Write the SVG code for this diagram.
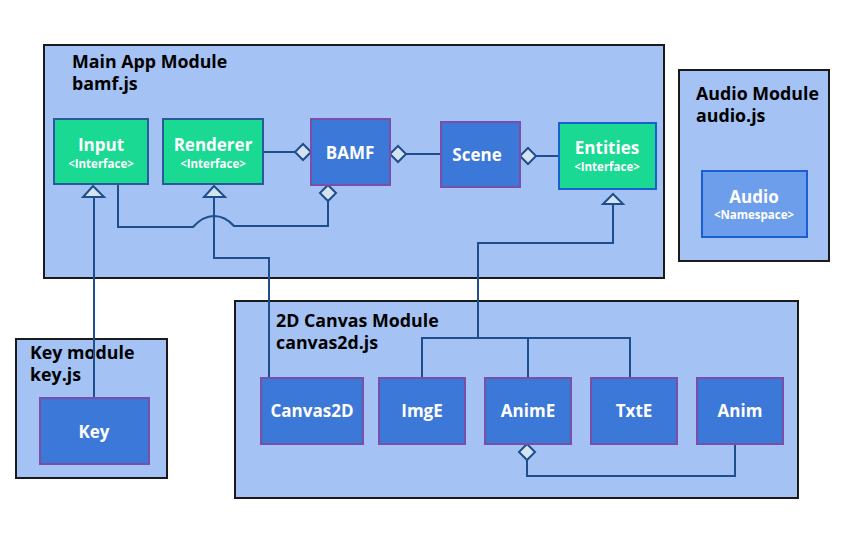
<svg xmlns="http://www.w3.org/2000/svg" width="868" height="549" viewBox="0 0 868 549">
<style>
.mod{fill:#a4c2f4;stroke:#1a1a1a;stroke-width:2}
.title{font-family:"Open Sans","Noto Sans",sans-serif;font-weight:bold;font-size:17.8px;fill:#000}
.iface{fill:#19d993;stroke:#2b5a9a;stroke-width:2}
.cls{fill:#3c78d8;stroke:#7a4fa8;stroke-width:2}
.ns{fill:#6d9eeb;stroke:#1a5fd0;stroke-width:2}
.lbl{font-family:"Open Sans","Noto Sans",sans-serif;font-weight:bold;font-size:17px;fill:#fff;text-anchor:middle}
.sub{font-family:"Open Sans","Noto Sans",sans-serif;font-weight:bold;font-size:11.5px;fill:#fff;text-anchor:middle}
.ln{fill:none;stroke:#1f4e8c;stroke-width:2}
.mk{fill:#d3e3f0;stroke:#1f4e8c;stroke-width:2;stroke-linejoin:miter}
</style>
<rect width="868" height="549" fill="#fff"/>
<g id="main-module">
<rect class="mod" x="44" y="45" width="620" height="233"/>
<text class="title" x="72" y="68">Main App Module</text>
<text class="title" x="72" y="90">bamf.js</text>
</g>
<g id="audio-module">
<rect class="mod" x="679" y="70" width="150" height="191"/>
<text class="title" x="696" y="100">Audio Module</text>
<text class="title" x="696" y="122">audio.js</text>
</g>
<g id="key-module">
<rect class="mod" x="16" y="339" width="151" height="139"/>
<text class="title" x="30" y="359">Key module</text>
<text class="title" x="30" y="381">key.js</text>
</g>
<g id="canvas-module">
<rect class="mod" x="235" y="301" width="563" height="197"/>
<text class="title" x="276" y="327">2D Canvas Module</text>
<text class="title" x="276" y="349">canvas2d.js</text>
</g>
<g id="connectors">
<path class="ln" d="M263,152 H295"/>
<path class="ln" d="M406,154 H441"/>
<path class="ln" d="M536,156 H559"/>
<path class="ln" d="M118,184 V227 H193 Q203,216 214,216 Q225,216 234,226 H328 V201"/>
<path class="ln" d="M94,197 V398"/>
<path class="ln" d="M214,197 V258 H269 V378"/>
<path class="ln" d="M613,204 V243 H478 V338"/>
<path class="ln" d="M422,378 V338 H630 V378"/>
<path class="ln" d="M528,338 V378"/>
<path class="ln" d="M527,460 V476 H735 V444"/>
<polygon class="mk" points="295,152 303,144 311,152 303,160"/>
<polygon class="mk" points="390,154 398,146 406,154 398,162"/>
<polygon class="mk" points="520,156 528,148 536,156 528,164"/>
<polygon class="mk" points="328,185 336,193 328,201 320,193"/>
<polygon class="mk" points="527,444 535,452 527,460 519,452"/>
<polygon class="mk" points="93,186 104,197 83,197"/>
<polygon class="mk" points="214,186 225,197 204,197"/>
<polygon class="mk" points="613,194 623,204 603,204"/>
</g>
<g id="input">
<rect class="iface" x="54" y="119" width="94" height="65"/>
<text class="lbl" x="101" y="151">Input</text>
<text class="sub" x="101" y="168">&lt;Interface&gt;</text>
</g>
<g id="renderer">
<rect class="iface" x="163" y="119" width="100" height="65"/>
<text class="lbl" x="213" y="151">Renderer</text>
<text class="sub" x="213" y="168">&lt;Interface&gt;</text>
</g>
<g id="bamf">
<rect class="cls" x="311" y="119" width="79" height="66"/>
<text class="lbl" x="350" y="159">BAMF</text>
</g>
<g id="scene">
<rect class="cls" x="441" y="122" width="79" height="65"/>
<text class="lbl" x="477" y="161">Scene</text>
</g>
<g id="entities">
<rect class="iface" x="559" y="123" width="97" height="66" style="stroke:#1a5fd0"/>
<text class="lbl" x="607" y="154">Entities</text>
<text class="sub" x="607" y="171">&lt;Interface&gt;</text>
</g>
<g id="audio">
<rect class="ns" x="702" y="171" width="105" height="66"/>
<text class="lbl" x="754" y="203">Audio</text>
<text class="sub" x="754" y="219">&lt;Namespace&gt;</text>
</g>
<g id="key">
<rect class="cls" x="40" y="398" width="109" height="66"/>
<text class="lbl" x="94" y="438">Key</text>
</g>
<g id="canvas2d">
<rect class="cls" x="261" y="378" width="102" height="66"/>
<text class="lbl" x="312" y="417">Canvas2D</text>
</g>
<g id="imge">
<rect class="cls" x="379" y="378" width="86" height="66"/>
<text class="lbl" x="422" y="417">ImgE</text>
</g>
<g id="anime">
<rect class="cls" x="485" y="378" width="86" height="66"/>
<text class="lbl" x="528" y="417">AnimE</text>
</g>
<g id="txte">
<rect class="cls" x="591" y="378" width="86" height="66"/>
<text class="lbl" x="634" y="417">TxtE</text>
</g>
<g id="anim">
<rect class="cls" x="697" y="378" width="86" height="66"/>
<text class="lbl" x="740" y="417">Anim</text>
</g>
</svg>
